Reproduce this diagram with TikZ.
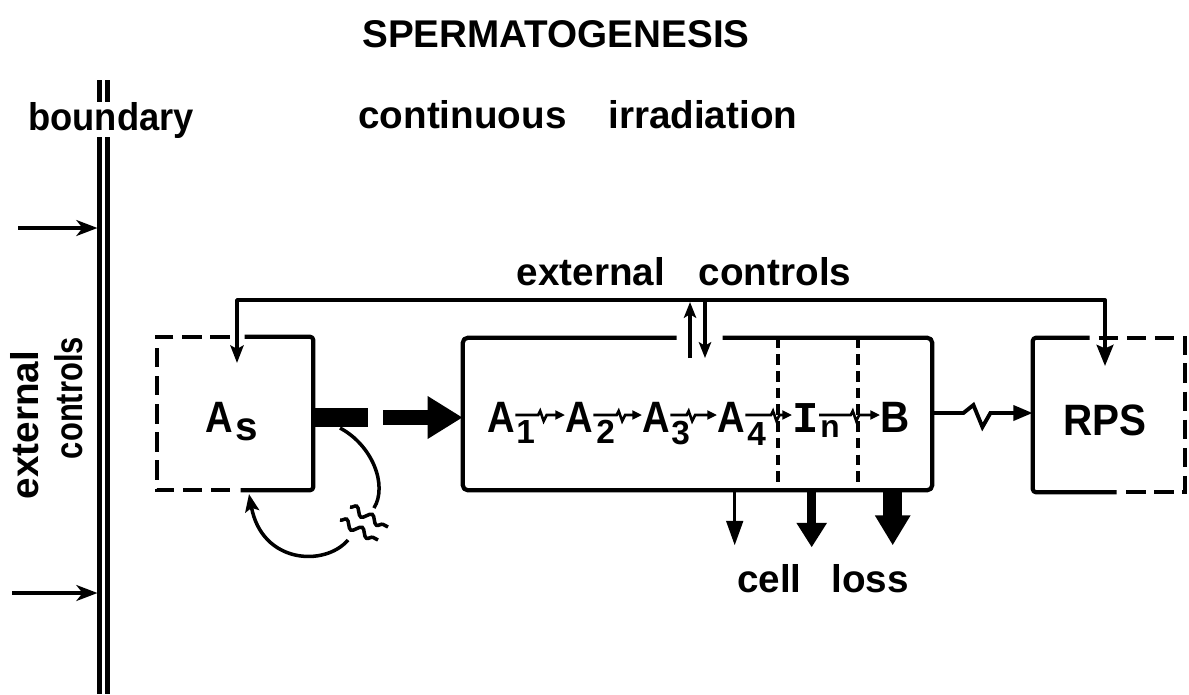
\documentclass[tikz,border=0pt]{standalone}
\usepackage{fontspec}
\setmainfont{Liberation Sans}
\newfontfamily\monof{Liberation Mono}
\usetikzlibrary{arrows.meta,calc,decorations.pathmorphing}
\newcommand\hsc[2]{\scalebox{#1}[1]{#2}}
\begin{document}
\begin{tikzpicture}[x=0.02cm,y=-0.02cm,
  lab/.style={font=\fontsize{22}{26}\selectfont\bfseries, inner sep=0pt},
  big/.style={font=\fontsize{25}{30}\selectfont\bfseries, inner sep=0pt},
  subs/.style={font=\fontsize{19}{20}\selectfont\bfseries, inner sep=0pt},
  bline/.style={line width=2.5pt},
  wall/.style={line width=2.4pt, line join=round},
  dashwall/.style={line width=2.4pt, dash pattern=on 11pt off 5pt},
  divider/.style={line width=2.2pt, dash pattern=on 6pt off 3.5pt},
  fb/.style={line width=2.2pt, line join=round},
  extarrow/.style={line width=2.2pt, -{Stealth[length=12pt,width=9pt,inset=3.5pt]}},
  sq/.style={line width=1.5pt, -{Triangle[length=5.5pt,width=5pt]},
    to path={-- ($(\tikztostart)!#1!(\tikztotarget)$) -- ++(2,-4) -- ++(3.5,10) -- ++(3,-6) -- (\tikztotarget)}},
  sq/.default=0.45,
  bigsq/.style={line width=2.2pt, -{Triangle[length=11pt,width=8.5pt]},
    to path={-- ($(\tikztostart)!#1!(\tikztotarget)$) -- ++(10,-8) -- ++(9,22) -- ++(8,-14) -- (\tikztotarget)}},
  bigsq/.default=0.31,
  wave/.style={line width=2pt, decorate, decoration={snake, amplitude=2.2pt, segment length=10pt}}
]
\fill[white] (0,0) rectangle (1189,694);
\useasboundingbox (0,0) rectangle (1189,694);

% ---------- boundary ----------
\draw[bline] (99.5,80) -- (99.5,102);
\draw[bline] (107.5,80) -- (107.5,102);
\draw[bline] (99.5,137) -- (99.5,694);
\draw[bline] (107.5,137) -- (107.5,694);
\node[lab, anchor=base] (bnd) at (111,130) {\hsc{0.94}{boundary}};
\coordinate (src1) at (18,228);
\coordinate (in1) at (97.5,228);
\coordinate (src2) at (12,593);
\coordinate (in2) at (97.5,593);
\draw[extarrow] (src1) -- (in1);
\draw[extarrow] (src2) -- (in2);
\node[lab, anchor=base, rotate=90] (ext1) at (38,425) {external};
\node[lab, anchor=base, rotate=90] (ext2) at (82,398) {\hsc{0.8}{controls}};

% ---------- titles ----------
\node[font=\fontsize{22}{26}\selectfont\bfseries, inner sep=0pt, anchor=base west] (title) at (362,47) {SPERMATOGENESIS};
\node[lab, anchor=base west] (irr) at (358,128) {continuous\hspace{0.8em} irradiation};
\node[lab, anchor=base] (extc) at (684,285) {external\hspace{0.6em} controls};

% ---------- boxes ----------
\node[inner sep=0pt, minimum width=3.12cm, minimum height=3.06cm] (As) at (235,413.5) {};
\node[inner sep=0pt, minimum width=9.38cm, minimum height=3.04cm] (M) at (697.5,414) {};
\node[inner sep=0pt, minimum width=3.04cm, minimum height=3.08cm] (R) at (1109,415) {};

% As box
\draw[dashwall] ($(As.north west)+(73,0)$) -- (As.north west) -- (As.south west) -- ($(As.south west)+(80,0)$);
\draw[wall, rounded corners=2pt] ($(As.north west)+(88,0)$) -- (As.north east) -- (As.south east) -- ($(As.south west)+(84,0)$);
\node[big, anchor=base west] (Atxt) at (205,432) {\hsc{0.87}{A}};
\node[font=\fontsize{23}{26}\selectfont\bfseries, inner sep=0pt, anchor=base west] (stxt) at (235,440) {s};

% middle box
\draw[wall, rounded corners=3pt] ($(M.north west)+(214,0)$) -- (M.north west) -- (M.south west) -- (M.south east) -- (M.north east) -- ($(M.north west)+(260,0)$);
\draw[divider] ($(M.north west)+(315,0)$) -- ($(M.south west)+(315,0)$);
\draw[divider] ($(M.north west)+(395,0)$) -- ($(M.south west)+(395,0)$);

% RPS box
\draw[wall, rounded corners=2pt] ($(R.north west)+(57,0)$) -- (R.north west) -- (R.south west) -- ($(R.south west)+(84,0)$);
\draw[dashwall] ($(R.north west)+(66,0)$) -- (R.north east) -- (R.south east) -- ($(R.south west)+(90,0)$);
\node[big, anchor=base] (rtxt) at (1105,435) {\hsc{0.92}{RPS}};

% ---------- chain ----------
\coordinate (row) at (0,415);
\node[big, anchor=base west] (A1) at (487,432) {\hsc{0.87}{A}};
\node[subs, anchor=base west] (s1) at (516,443) {1};
\node[big, anchor=base west] (A2) at (565,432) {\hsc{0.87}{A}};
\node[subs, anchor=base west] (s2) at (596,443) {2};
\node[big, anchor=base west] (A3) at (642,432) {\hsc{0.87}{A}};
\node[subs, anchor=base west] (s3) at (671,444) {3};
\node[big, anchor=base west] (A4) at (717,432) {\hsc{0.87}{A}};
\node[subs, anchor=base west] (s4) at (747,445) {4};
\node[big, anchor=base west] (In) at (792,432) {\monof\bfseries I};
\node[subs, anchor=base west, font=\fontsize{18}{20}\selectfont\bfseries] (sn) at (820,437) {n};
\node[big, anchor=base west] (B) at (880,432) {\hsc{0.92}{B}};
\draw[sq=0.46] (A1.east |- row) to (A2.west |- row);
\draw[sq=0.48] (A2.east |- row) to (A3.west |- row);
\draw[sq=0.35] (A3.east |- row) to (A4.west |- row);
\draw[sq=0.55] (A4.east |- row) to (In.west |- row);
\draw[sq=0.52] (In.east |- row) to (B.west |- row);

% B -> RPS
\coordinate (brow) at (0,413);
\draw[bigsq] (M.east |- brow) to (R.west |- brow);

% ---------- As -> chain thick arrow ----------
\draw[line width=10.5pt] ($(As.east)+(0,4)$) -- ++(55,0);
\draw[line width=8pt, -{Triangle[length=20pt,width=23pt]}] ($(As.east)+(70,4)$) -- ($(M.west)+(0,3.5)$);

% ---------- self-renewal loop ----------
\coordinate (lp1) at (340,428);
\coordinate (lp2) at (374,508);
\coordinate (lp3) at (348,540);
\coordinate (lp4) at (249,494);
\draw[line width=2pt] (lp1) .. controls (372,445) and (388,485) .. (lp2);
\draw[line width=2pt, -{Stealth[length=10pt,width=8pt,inset=2pt]}] (lp3) .. controls (325,567) and (262,564) .. (lp4);
\draw[wave] (350,507) -- (388,527);
\draw[wave] (340,520) -- (378,540);

% ---------- feedback (external controls) ----------
\coordinate (tl) at (237,300);
\coordinate (tr) at (1105,300);
\coordinate (asin) at (237,363);
\coordinate (rpsin) at (1105,366);
\draw[fb, {Stealth[length=10pt,width=7.5pt,inset=2pt]}-{Stealth[length=12pt,width=9.5pt,inset=2pt]}] (asin) -- (tl) -- (tr) -- (rpsin);
\coordinate (upb) at (690,358);
\coordinate (upt) at (690,302);
\coordinate (dnt) at (705,300);
\coordinate (dnb) at (705,358);
\draw[line width=1.9pt, -{Stealth[length=9pt,width=7pt,inset=2pt]}] (upb) -- (upt);
\draw[line width=1.9pt, -{Stealth[length=9pt,width=7pt,inset=2pt]}] (dnt) -- (dnb);

% ---------- cell loss ----------
\draw[line width=1.7pt, -{Triangle[length=14pt,width=9.5pt]}] ($(M.south west)+(272,0)$) -- ++(0,55);
\draw[line width=5pt, -{Triangle[length=14pt,width=16.5pt]}] ($(M.south west)+(349,0)$) -- ++(0,57);
\draw[line width=10.5pt, -{Triangle[length=17pt,width=19pt]}] ($(M.south west)+(430,0)$) -- ++(0,55);
\node[lab, anchor=base] (loss) at (823,592) {cell\hspace{0.5em} loss};
\end{tikzpicture}
\end{document}
